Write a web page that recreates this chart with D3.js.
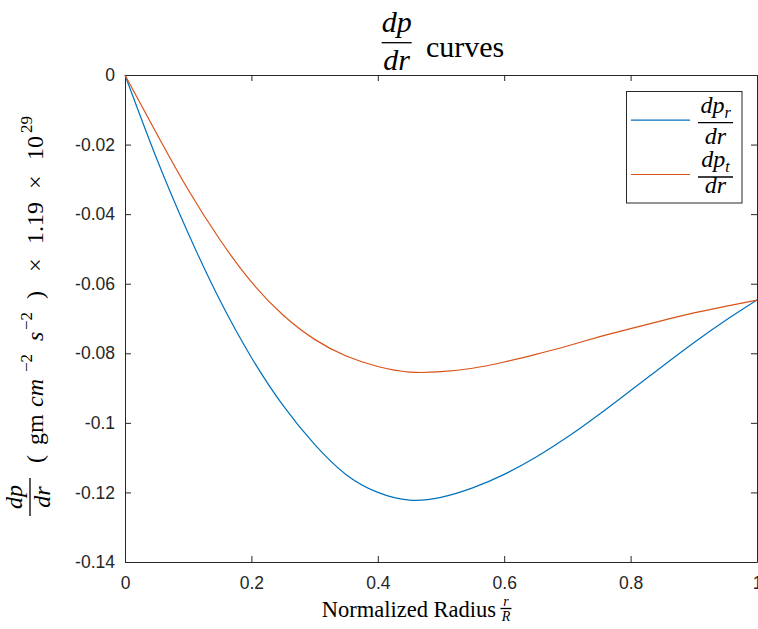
<!DOCTYPE html>
<html>
<head>
<meta charset="utf-8">
<script src="https://cdn.jsdelivr.net/npm/d3@7"></script>
<style>
  body { margin: 0; background: #fff; }
  svg { display: block; }
  .tick text { font-family: "Liberation Sans", Arial, sans-serif; font-size: 17.5px; fill: #262626; }
  .domain, .tick line { stroke: #262626; stroke-width: 1; }
  .tex { font-family: "Liberation Serif", "Times New Roman", serif; fill: #000; }
</style>
</head>
<body>
<div id="chart"></div>
<script>
// normalized radius r/R
const radius = [0, 0.05, 0.1, 0.15, 0.2, 0.25, 0.3, 0.35, 0.4, 0.45, 0.5,
                0.55, 0.6, 0.65, 0.7, 0.75, 0.8, 0.85, 0.9, 0.95, 1];
// dp_r/dr  (x 1.19e29)
const dprdr = [0, -0.0240, -0.0455, -0.0647, -0.0812, -0.0950, -0.1062, -0.1149, -0.1200, -0.1222, -0.1214,
               -0.1187, -0.1148, -0.1099, -0.1041, -0.0976, -0.0907, -0.0838, -0.0770, -0.0706, -0.0647];
// dp_t/dr  (x 1.19e29)
const dptdr = [0, -0.0168, -0.0330, -0.0473, -0.0595, -0.0690, -0.0760, -0.0808, -0.0838, -0.0854, -0.0853,
               -0.0843, -0.0825, -0.0803, -0.0779, -0.0753, -0.0729, -0.0706, -0.0684, -0.0665, -0.0647];

const xTicks = [0, 0.2, 0.4, 0.6, 0.8, 1];
const yTicks = [0, -0.02, -0.04, -0.06, -0.08, -0.1, -0.12, -0.14];

const W = 758, H = 629;
const margin = {top: 75, right: 1, bottom: 67, left: 125};

const svg = d3.select("#chart").append("svg")
    .attr("width", W)
    .attr("height", H);

const x = d3.scaleLinear().domain([0, 1]).range([margin.left, W - margin.right]);
const y = d3.scaleLinear().domain([-0.14, 0]).range([H - margin.bottom, margin.top]);

const fmt = d => String(+d.toFixed(2));

// axes (MATLAB style: ticks point inward, box on)
svg.append("g")
    .attr("transform", `translate(0,${y(-0.14)})`)
    .call(d3.axisBottom(x).tickValues(xTicks).tickFormat(fmt).tickSize(-6).tickSizeOuter(0).tickPadding(15));
svg.append("g")
    .attr("transform", `translate(0,${y(0)})`)
    .call(d3.axisTop(x).tickValues(xTicks).tickFormat("").tickSize(-6).tickSizeOuter(0));
svg.append("g")
    .attr("transform", `translate(${x(0)},0)`)
    .call(d3.axisLeft(y).tickValues(yTicks).tickFormat(fmt).tickSize(-6).tickSizeOuter(0).tickPadding(10));
svg.append("g")
    .attr("transform", `translate(${x(1)},0)`)
    .call(d3.axisRight(y).tickValues(yTicks).tickFormat("").tickSize(-6).tickSizeOuter(0));

// curves
const series = [
  {name: "r", values: dprdr, color: "#0072BD"},
  {name: "t", values: dptdr, color: "#D95319"}
];
const line = d3.line()
    .x((d, i) => x(radius[i]))
    .y(d => y(d))
    .curve(d3.curveNatural);

svg.selectAll(".curve")
  .data(series)
  .join("path")
    .attr("class", "curve")
    .attr("d", d => line(d.values))
    .attr("fill", "none")
    .attr("stroke", d => d.color)
    .attr("stroke-width", 1.2);

// helper for a stacked fraction
function frac(g, cx, barY, num, den, size, halfW, numOff, denOff) {
  const n = g.append("text").attr("class", "tex").attr("x", cx).attr("y", barY - numOff)
      .attr("text-anchor", "middle").attr("font-size", size).attr("font-style", "italic");
  num(n);
  g.append("line").attr("x1", cx - halfW).attr("x2", cx + halfW)
      .attr("y1", barY).attr("y2", barY).attr("stroke", "#000").attr("stroke-width", 1.3);
  const d = g.append("text").attr("class", "tex").attr("x", cx).attr("y", barY + denOff)
      .attr("text-anchor", "middle").attr("font-size", size).attr("font-style", "italic");
  den(d);
}

// title
const tg = svg.append("g");
frac(tg, 396.7, 42.7, t => t.text("dp"), t => t.text("dr"), 30, 15, 10.7, 27.3);
tg.append("text").attr("class", "tex").attr("x", 426).attr("y", 56.7)
    .attr("font-size", 30).text("curves");

// x label
const xg = svg.append("g");
xg.append("text").attr("class", "tex").attr("x", 321.7).attr("y", 616.7)
    .attr("font-size", 22.5).text("Normalized Radius");
frac(xg, 506, 608.5, t => t.text("r"), t => t.text("R"), 14, 5.5, 3, 12);

// y label (rotated)
const yg = svg.append("g").attr("transform", "translate(0,517) rotate(-90)");
frac(yg, 20, 30, t => t.text("dp"), t => t.text("dr"), 24, 19, 8, 20);
const ylab = [
  {s: "(", x: 54},
  {s: "gm", x: 72},
  {s: "cm", x: 110, it: true},
  {s: "\u22122", x: 145, sup: true},
  {s: "s", x: 176, it: true},
  {s: "\u22122", x: 187, sup: true},
  {s: ")", x: 218},
  {s: "\u00d7", x: 245},
  {s: "1.19", x: 273},
  {s: "\u00d7", x: 328},
  {s: "10", x: 357},
  {s: "29", x: 384, sup: true}
];
yg.selectAll(".ypart")
  .data(ylab)
  .join("text")
    .attr("class", "tex ypart")
    .attr("x", d => d.x)
    .attr("y", d => d.sup ? 32 : 43)
    .attr("font-size", d => d.sup ? 17 : 24)
    .attr("font-style", d => d.it ? "italic" : "normal")
    .text(d => d.s);

// legend
const lg = svg.append("g");
lg.append("rect").attr("x", 626.5).attr("y", 91.5).attr("width", 115.5).attr("height", 111.5)
    .attr("fill", "#fff").attr("stroke", "#262626").attr("stroke-width", 1);
const legendRows = [
  {sub: "r", color: "#0072BD", bar: 122.7, den: 21},
  {sub: "t", color: "#D95319", bar: 177, den: 16}
];
legendRows.forEach(r => {
  lg.append("line").attr("x1", 631).attr("x2", 690)
      .attr("y1", r.bar - 2.5).attr("y2", r.bar - 2.5)
      .attr("stroke", r.color).attr("stroke-width", 1.2);
  frac(lg, 715.5, r.bar,
    t => { t.append("tspan").text("dp"); t.append("tspan").attr("font-size", 16).attr("dy", 5).text(r.sub); },
    t => t.text("dr"), 24, 17.5, 10, r.den);
});
</script>
</body>
</html>
